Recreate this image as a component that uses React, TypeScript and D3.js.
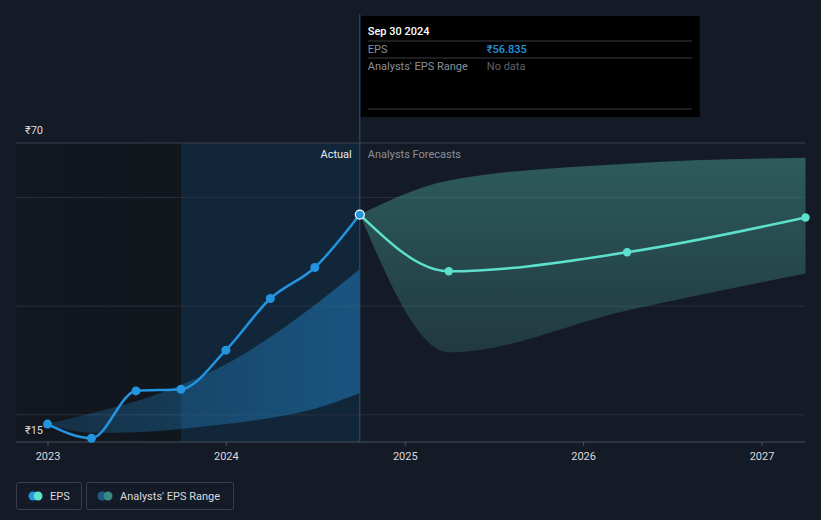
import * as d3 from "d3";

const FONT = "Roboto, 'Noto Sans', sans-serif";
const W = 821;
const H = 520;

// actual EPS (quarterly)
const actualDates = ["2022-12-31", "2023-03-31", "2023-06-30", "2023-09-30", "2023-12-31", "2024-03-31", "2024-06-30", "2024-09-30"];
const actualEps = [18.3, 15.7, 24.4, 24.7, 31.9, 41.4, 47.1, 56.835];
// past analyst range
const pastHigh = [18.3, 20.3, 22.5, 25.5, 29.3, 34.3, 40.2, 46.8];
const pastLow = [18.3, 16.7, 16.8, 17.4, 18.3, 19.4, 21.1, 24.0];

// forecasts
const fcDates = ["2024-09-30", "2025-03-31", "2026-03-31", "2027-03-31"];
const fcEps = [56.835, 46.4, 49.9, 56.3];
const fcHigh = [56.835, 63.1, 66.2, 67.3];
const fcLow = [56.835, 31.5, 39.2, 46.0];

const yearTicks = ["2023", "2024", "2025", "2026", "2027"];
const gridValues = [20, 40, 60];

const parse = d3.timeParse("%Y-%m-%d");

export default function App() {
  const x = d3
    .scaleTime()
    .domain([parse("2023-01-01")!, parse("2027-01-01")!])
    .range([48, 762]);
  const y = d3.scaleLinear().domain([15, 70]).range([442, 143]);

  const left = 16;
  const right = 805;
  const splitX = x(parse(actualDates[actualDates.length - 1])!);
  const hiStart = x(parse(actualDates[3])!);

  const act = actualDates.map((d, i) => ({ d: parse(d)!, v: actualEps[i], hi: pastHigh[i], lo: pastLow[i] }));
  const fc = fcDates.map((d, i) => ({ d: parse(d)!, v: fcEps[i], hi: fcHigh[i], lo: fcLow[i] }));

  const line = d3
    .line<{ d: Date; v: number }>()
    .x((p) => x(p.d))
    .y((p) => y(p.v))
    .curve(d3.curveMonotoneX);
  const area = d3
    .area<{ d: Date; hi: number; lo: number }>()
    .x((p) => x(p.d))
    .y0((p) => y(p.lo))
    .y1((p) => y(p.hi))
    .curve(d3.curveMonotoneX);

  const last = act[act.length - 1];

  return (
    <div style={{ position: "fixed", left: 0, top: 0, width: W, height: H }}>
      <svg width={W} height={H} style={{ display: "block", fontFamily: FONT }}>
        <defs>
          <linearGradient id="pastBand" x1="0" x2="1" y1="0" y2="0">
            <stop offset="0%" stopColor="#2394df" stopOpacity={0.2} />
            <stop offset="100%" stopColor="#2394df" stopOpacity={0.42} />
          </linearGradient>
          <linearGradient id="fcBand" x1="0" x2="0" y1="0" y2="1">
            <stop offset="0%" stopColor="#4fb3a6" stopOpacity={0.42} />
            <stop offset="100%" stopColor="#4fb3a6" stopOpacity={0.2} />
          </linearGradient>
          <linearGradient id="pastBg" x1="0" x2="1" y1="0" y2="0">
            <stop offset="0%" stopColor="#11151c" stopOpacity={0.6} />
            <stop offset="100%" stopColor="#11151c" stopOpacity={0.9} />
          </linearGradient>
        </defs>
        <rect width={W} height={H} fill="#151b26" />

        {/* past background */}
        <rect x={left} y={y(70)} width={hiStart - left} height={y(15) - y(70)} fill="url(#pastBg)" />
        <rect x={hiStart} y={y(70)} width={splitX - hiStart} height={y(15) - y(70)} fill="#12263a" />

        {/* grid */}
        {gridValues.map((g) => (
          <line key={g} x1={left} x2={right} y1={y(g)} y2={y(g)} stroke="#2a313c" strokeWidth={1} />
        ))}
        <line x1={left} x2={right} y1={y(70)} y2={y(70)} stroke="#3a414c" strokeWidth={1} />

        {/* bands */}
        <path d={area(act) ?? ""} fill="url(#pastBand)" />
        <path d={area(fc) ?? ""} fill="url(#fcBand)" />

        {/* split line */}
        <line x1={splitX} x2={splitX} y1={14} y2={y(15)} stroke="#1f5480" strokeWidth={1} />

        {/* axis */}
        <line x1={left} x2={right} y1={y(15)} y2={y(15)} stroke="#4a505b" strokeWidth={1.2} />
        {yearTicks.map((t) => {
          const tx = x(parse(`${t}-01-01`)!);
          return (
            <g key={t}>
              <line x1={tx} x2={tx} y1={y(15)} y2={y(15) + 4} stroke="#4a505b" />
              <text x={tx} y={460} textAnchor="middle" fill="#d8dadf" fontSize={11}>
                {t}
              </text>
            </g>
          );
        })}
        <text x={25} y={134} fill="#d8dadf" fontSize={11}>₹70</text>
        <text x={25} y={434} fill="#d8dadf" fontSize={11}>₹15</text>

        <text x={splitX - 8} y={158} textAnchor="end" fill="#e6e8ec" fontSize={11}>Actual</text>
        <text x={splitX + 8} y={158} fill="#8a8f99" fontSize={11}>Analysts Forecasts</text>

        {/* lines */}
        <path d={line(fc) ?? ""} fill="none" stroke="#5de0cc" strokeWidth={2.5} />
        <path d={line(act) ?? ""} fill="none" stroke="#2394df" strokeWidth={2.5} />
        {fc.slice(1).map((p, i) => (
          <circle key={`f${i}`} cx={x(p.d)} cy={y(p.v)} r={4.2} fill="#5de0cc" />
        ))}
        {act.slice(0, -1).map((p, i) => (
          <circle key={`a${i}`} cx={x(p.d)} cy={y(p.v)} r={4.5} fill="#2394df" />
        ))}
        <circle cx={x(last.d)} cy={y(last.v)} r={4.5} fill="#2394df" stroke="#ffffff" strokeWidth={1.2} />

        {/* tooltip */}
        <g transform={`translate(${splitX + 1},16)`}>
          <rect width={339} height={101} fill="#000000" />
          <text x={7} y={19} fill="#ffffff" fontSize={11} fontWeight={500}>Sep 30 2024</text>
          <line x1={7} x2={331} y1={25} y2={25} stroke="#3a3d42" />
          <text x={7} y={37} fill="#8a8f99" fontSize={11}>EPS</text>
          <text x={126} y={37} fill="#2394df" fontSize={11} fontWeight={500}>₹56.835</text>
          <line x1={7} x2={331} y1={42} y2={42} stroke="#3a3d42" />
          <text x={7} y={54} fill="#8a8f99" fontSize={11}>Analysts' EPS Range</text>
          <text x={126} y={54} fill="#5f636b" fontSize={11}>No data</text>
          <line x1={7} x2={331} y1={93} y2={93} stroke="#3a3d42" />
        </g>

        {/* legend */}
        <rect x={16.5} y={482.5} width={65} height={27} rx={2} fill="none" stroke="#3a404b" />
        <circle cx={33} cy={496} r={4.5} fill="#2394df" />
        <circle cx={38} cy={496} r={4.5} fill="#5de0cc" />
        <text x={50} y={500} fill="#d8dadf" fontSize={11}>EPS</text>
        <rect x={86.5} y={482.5} width={147} height={27} rx={2} fill="none" stroke="#3a404b" />
        <circle cx={102} cy={496} r={4.5} fill="#1f5a86" />
        <circle cx={108} cy={496} r={4.5} fill="#3a8983" />
        <text x={120} y={500} fill="#d8dadf" fontSize={11}>Analysts' EPS Range</text>
      </svg>
    </div>
  );
}
